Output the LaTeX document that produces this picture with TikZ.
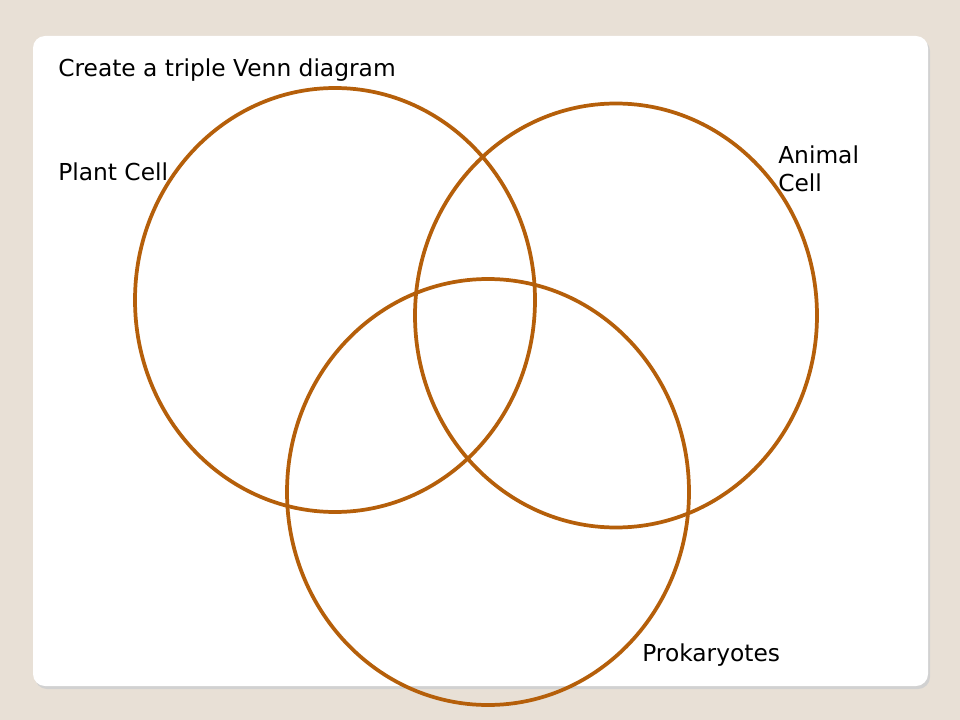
\documentclass[tikz,border=0pt]{standalone}
\usepackage{fontspec}
\setmainfont{DejaVu Sans}
\definecolor{bg}{RGB}{232,224,214}
\definecolor{ring}{RGB}{181,95,10}
\begin{document}
\begin{tikzpicture}[x=0.75pt,y=-0.75pt,
  ringstyle/.style={draw=ring,line width=2.8pt},
  lbl/.style={font=\fontsize{17.5}{21}\selectfont,anchor=base west,inner sep=0pt,align=left}]
\fill[bg] (0,0) rectangle (960,720);
\fill[black!18,rounded corners=9pt] (35,39) rectangle (930,689);
\fill[white,rounded corners=9pt] (33,36) rectangle (928,686);
\draw[ringstyle] (335,300) ellipse [x radius=200,y radius=212];
\draw[ringstyle] (616,315.5) ellipse [x radius=201,y radius=212];
\draw[ringstyle] (488,492) ellipse [x radius=201,y radius=213];
\node[lbl] (title) at (58,77) {Create a triple Venn diagram};
\node[lbl] (plant) at (58,181) {Plant Cell};
\node[lbl] (animal) at (778,192) {Animal\\Cell};
\node[lbl] (pro) at (642,661) {Prokaryotes};
\end{tikzpicture}
\end{document}
